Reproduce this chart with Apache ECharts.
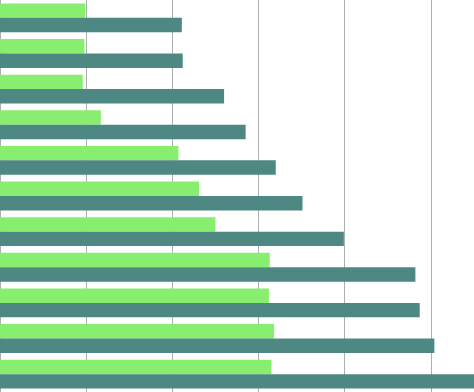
<!DOCTYPE html>
<html>
<head>
<meta charset="utf-8">
<script src="https://cdn.jsdelivr.net/npm/echarts@6/dist/echarts.min.js"></script>
<style>
html, body { margin: 0; padding: 0; background: #fff; }
#bars { width: 474px; height: 392px; }
</style>
</head>
<body>
<div id="bars"></div>
<script>
// categories, top to bottom
var categories = ['A', 'B', 'C', 'D', 'E', 'F', 'G', 'H', 'I', 'J', 'K'];
// light green series
var greenValues = [9.9, 9.8, 9.6, 11.7, 20.7, 23.1, 25.0, 31.3, 31.2, 31.8, 31.5];
// teal series
var tealValues = [21.1, 21.2, 26.0, 28.5, 32.0, 35.1, 39.9, 48.2, 48.7, 50.4, 56];

var barsChart = echarts.init(document.getElementById('bars'));

var barsOption = {
    animation: false,
    grid: {
        left: 0,
        right: 0,
        top: 0,
        bottom: 0,
        containLabel: false
    },
    xAxis: {
        type: 'value',
        min: 0,
        max: 55,
        interval: 10,
        axisLine: { show: false },
        axisTick: { show: false },
        axisLabel: { show: false },
        splitLine: {
            show: true,
            lineStyle: { color: '#a9b0b0', width: 1 }
        }
    },
    yAxis: {
        type: 'category',
        inverse: true,
        data: categories,
        axisLine: { show: false },
        axisTick: { show: false },
        axisLabel: { show: false }
    },
    series: [
        {
            type: 'bar',
            data: greenValues,
            barGap: '0%',
            barCategoryGap: '19%',
            itemStyle: { color: '#88ee70' }
        },
        {
            type: 'bar',
            data: tealValues,
            barGap: '0%',
            barCategoryGap: '19%',
            itemStyle: { color: '#4e8882' }
        }
    ]
};

barsChart.setOption(barsOption);

window.onresize = function(){
    barsChart.resize();
};
</script>
</body>
</html>
